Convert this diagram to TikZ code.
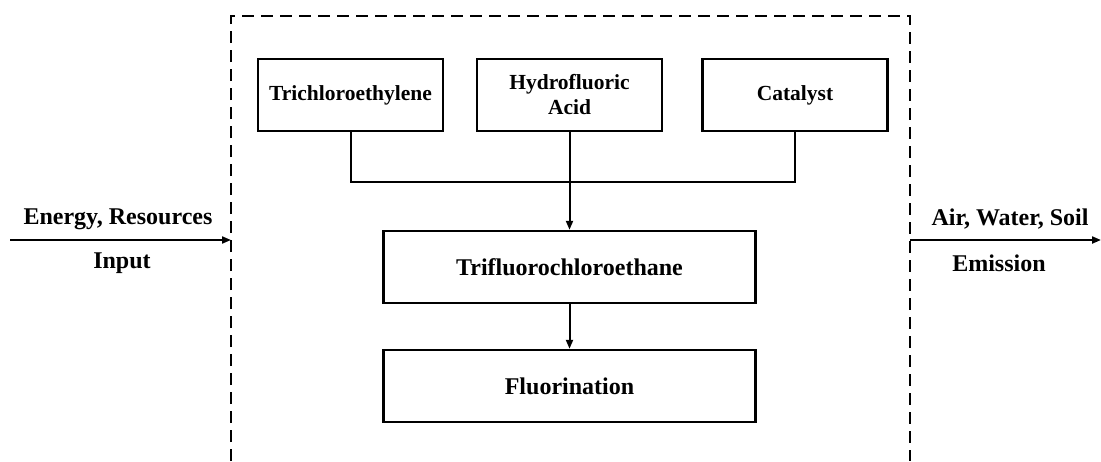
\documentclass[tikz,border=0pt]{standalone}
\usepackage{fontspec}
\setmainfont{Liberation Serif}
\usetikzlibrary{arrows.meta}
\begin{document}
\begin{tikzpicture}[x=1pt,y=-1pt,
  procbox/.style={draw,line width=2.4pt,minimum height=72pt,inner sep=0pt,
    font=\bfseries\fontsize{21.5}{25}\selectfont,align=center},
  bigbox/.style={procbox,font=\bfseries\fontsize{24}{28}\selectfont},
  flow/.style={line width=2pt},
  flowarrow/.style={flow,-{Triangle[length=9pt,width=7pt]}},
  boundary/.style={line width=2.4pt,dash pattern=on 12pt off 7pt},
  lbl/.style={font=\bfseries\fontsize{24}{28}\selectfont,inner sep=0pt}]
\useasboundingbox (0,0) rectangle (1101,461);

% system boundary (open at the bottom)
\draw[boundary] (231,461) -- (231,16) -- (910,16) -- (910,461);

% raw materials
\node[procbox,minimum width=185pt] (tce) at (350.5,95) {Trichloroethylene};
\node[procbox,minimum width=185pt] (hf)  at (569.5,95) {Hydrofluoric\\Acid};
\node[procbox,minimum width=185pt] (cat) at (795,95) {Catalyst};

% process steps
\node[bigbox,minimum width=372pt] (tfce) at (569.5,267) {Trifluorochloroethane};
\node[bigbox,minimum width=372pt] (fluo) at (569.5,386) {Fluorination};

% merging connectors
\coordinate (jl) at (tce.south |- 0,182);
\coordinate (jr) at (cat.south |- 0,182);
\draw[flow] (tce.south) -- (jl) -- (jr) -- (cat.south);
\draw[flowarrow] (hf.south) -- (tfce.north);
\draw[flowarrow] (tfce.south) -- (fluo.north);

% inputs and emissions across the boundary
\coordinate (inS) at (10,240);
\coordinate (inE) at (231,240);
\coordinate (outS) at (910,240);
\coordinate (outE) at (1101,240);
\draw[flowarrow] (inS) -- (inE);
\draw[flowarrow] (outS) -- (outE);

\node[lbl] (inTop) at (118,219) {Energy, Resources};
\node[lbl] (inBot) at (122,263) {Input};
\node[lbl] (outTop) at (1010,219) {Air, Water, Soil};
\node[lbl] (outBot) at (999,263) {Emission};
\end{tikzpicture}
\end{document}
